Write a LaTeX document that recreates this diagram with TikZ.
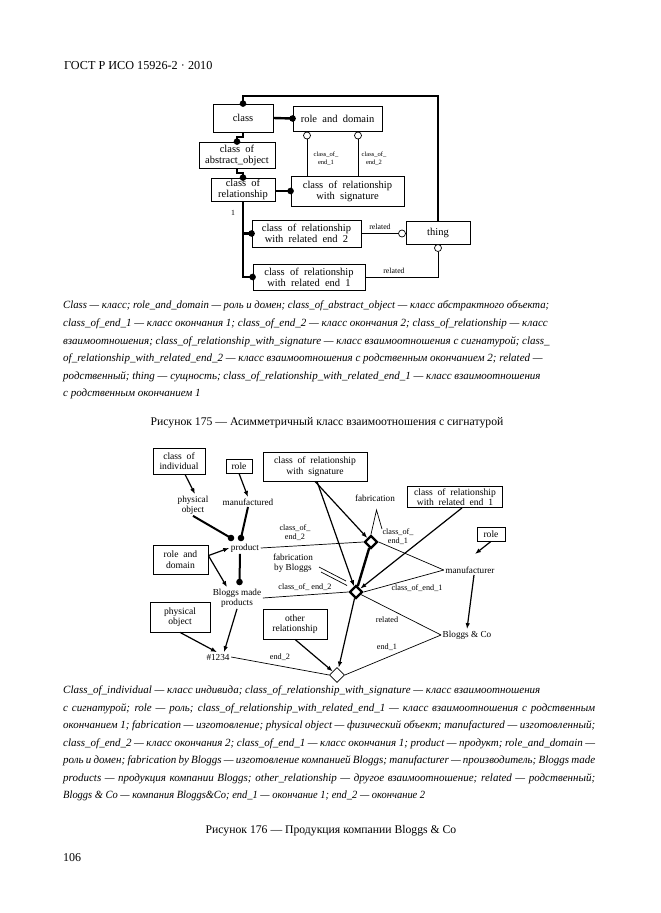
\documentclass[tikz,border=0pt]{standalone}
\usepackage{fontspec}
\usepackage{graphicx}
\setmainfont{Liberation Serif}
\usetikzlibrary{shapes.geometric,arrows.meta}
\begin{document}
\begin{tikzpicture}[x=1pt,y=-1pt,
  cbox/.style={draw, line width=0.8pt, inner sep=0pt, align=center, font=\fontsize{9.6}{10.5}\selectfont},
  tbox/.style={cbox, font=\fontsize{10.5}{11}\selectfont},
  lbl/.style={inner sep=1.5pt, align=center, font=\fontsize{9.2}{10}\selectfont},
  slbl/.style={inner sep=0.5pt, align=center, font=\fontsize{6.5}{8}\selectfont},
  mlbl/.style={inner sep=0.5pt, align=center, font=\fontsize{7.8}{8.8}\selectfont},
  blbl/.style={inner sep=0.5pt, align=center, font=\fontsize{8.2}{9.2}\selectfont},
  thk/.style={line width=2.4pt},
  thkb/.style={line width=2pt},
  thn/.style={line width=0.7pt},
  arr/.style={line width=1.2pt, -{Latex[length=6pt,width=4.5pt]}},
  hol/.style={circle, draw, fill=white, line width=0.7pt, inner sep=0pt, minimum size=7pt},
  leg/.style={anchor=base west, inner sep=0pt, font=\fontsize{11}{12}\selectfont\itshape},
  capt/.style={anchor=base, inner sep=0pt, font=\fontsize{11.7}{13}\selectfont},
]
\useasboundingbox (0,0) rectangle (661,913);
\fill[white] (0,0) rectangle (661,913);

% header and page number
\node[anchor=base west, inner sep=0pt, font=\fontsize{12.2}{14}\selectfont] (hdr) at (64,69) {ГОСТ Р ИСО 15926-2 · 2010};
\node[anchor=base west, inner sep=0pt, font=\fontsize{12}{14}\selectfont] (pg) at (63,861) {106};

% ---------------- Figure 175 ----------------
\node[tbox, minimum width=60, minimum height=28] (class) at (243,118) {class};
\node[tbox, minimum width=89, minimum height=25] (rad) at (337.5,118.5) {role\ \ and\ \ domain};
\node[tbox, minimum width=76, minimum height=26] (abs) at (237,155) {class\ \ of\\abstract\_object};
\node[tbox, minimum width=64, minimum height=23] (rel) at (243,189.5) {class\ \ of\\relationship};
\node[tbox, minimum width=113, minimum height=30] (sig) at (347.5,191) {class\ \ of\ \ relationship\\with\ \ signature};
\node[tbox, minimum width=109, minimum height=27] (re2) at (306.5,233.5) {class\ \ of\ \ relationship\\with\ \ related\ \ end\ \ 2};
\node[tbox, minimum width=64, minimum height=23] (thing) at (438,232.5) {thing};
\node[tbox, minimum width=112, minimum height=26] (re1) at (309,277) {class\ \ of\ \ relationship\\with\ \ related\ \ end\ \ 1};

\coordinate (topy) at (0,96);
\draw[thk] (class.north) -- (class.north |- topy) -| (thing.north);
\fill (class.north) circle (3.3);
\draw[thk] (class.east) -- (rad.west);
\fill (rad.west) circle (3.3);
\coordinate (j1) at (237,137);
\draw[thk] (class.south) |- (j1) -- (abs.north);
\fill (abs.north) circle (3.3);
\coordinate (j2) at (243,173);
\draw[thk] (abs.south) |- (j2) -- (rel.north);
\fill (rel.north) circle (3.3);
\draw[thk] (rel.east |- sig.west) -- (sig.west);
\fill (sig.west) circle (3.3);

\node[hol] (h1) at (307,135.5) {};
\node[hol] (h2) at (358,135.5) {};
\draw[thn] (h1.south) -- (h1.south |- sig.north);
\draw[thn] (h2.south) -- (h2.south |- sig.north);
\node[slbl] (l1) at (326,159) {class\_of\_\\end\_1};
\node[slbl] (l2) at (374,159) {class\_of\_\\end\_2};

\draw[thk] (rel.south) |- (re1.west);
\draw[thk] (rel.south |- re2.west) -- (re2.west);
\fill (re2.west) circle (3.3);
\fill (re1.west) circle (3.3);
\node[mlbl] (one) at (233,213) {1};

\node[hol] (h3) at (402,233.5) {};
\draw[thn] (re2.east) -- (h3.west);
\node[mlbl] (l3) at (380,227) {related};
\node[hol] (h4) at (438,248) {};
\draw[thn] (re1.east) -| (h4.south);
\node[mlbl] (l4) at (394,271) {related};

% legend 1
\node[leg] (a1) at (63,308) {\resizebox{486pt}{\height}{Class — класс; role\_and\_domain — роль и домен; class\_of\_abstract\_object — класс абстрактного объекта;}};
\node[leg] (a2) at (63,326) {class\_of\_end\_1 — класс окончания 1; class\_of\_end\_2 — класс окончания 2; class\_of\_relationship — класс};
\node[leg] (a3) at (63,344) {взаимоотношения; class\_of\_relationship\_with\_signature — класс взаимоотношения с сигнатурой; class\_};
\node[leg] (a4) at (63,361) {of\_relationship\_with\_related\_end\_2 — класс взаимоотношения с родственным окончанием 2; related —};
\node[leg] (a5) at (63,379) {родственный; thing — сущность; class\_of\_relationship\_with\_related\_end\_1 — класс взаимоотношения};
\node[leg] (a6) at (63,396) {с родственным окончанием 1};

\node[capt] (c175) at (327,425) {Рисунок 175 — Асимметричный класс взаимоотношения с сигнатурой};

% ---------------- Figure 176 ----------------
\node[cbox, minimum width=52, minimum height=26] (coi) at (179,461) {class\ \ of\\individual};
\node[cbox, minimum width=26, minimum height=14] (role1) at (239,466) {role};
\node[cbox, minimum width=104, minimum height=29] (sig2) at (315,466.5) {class\ \ of\ \ relationship\\with\ \ signature};
\node[cbox, minimum width=95, minimum height=21] (cre1) at (455,497) {class\ \ of\ \ relationship\\with\ \ related\ \ end\ \ 1};
\node[cbox, minimum width=28, minimum height=14] (role2) at (491,534) {role};
\node[cbox, minimum width=55, minimum height=29] (rad2) at (180.5,559.5) {role\ \ and\\domain};
\node[cbox, minimum width=60, minimum height=30] (po) at (180,617) {physical\\object};
\node[cbox, minimum width=64, minimum height=30] (other) at (295,624) {other\\relationship};

\node[lbl] (phys) at (193,505) {physical\\object};
\node[lbl] (manuf) at (248,502) {manufactured};
\node[lbl] (prod) at (245,548) {product};
\node[lbl] (bmp) at (237,598) {Bloggs made\\products};
\node[lbl] (n1234) at (218,657) {\#1234};
\node[lbl] (fab) at (375,498) {fabrication};
\node[lbl] (fbb) at (293,563) {fabrication\\by Bloggs};
\node[lbl] (mfr) at (470,570) {manufacturer};
\node[lbl] (bco) at (467,635) {Bloggs \& Co};

\node[blbl] (k1) at (295,533) {class\_of\_\\end\_2};
\node[blbl] (k2) at (398,537) {class\_of\_\\end\_1};
\node[blbl] (k3) at (305,587) {class\_of\_ end\_2};
\node[blbl] (k4) at (417,588) {class\_of\_end\_1};
\node[blbl] (k5) at (387,620) {related};
\node[blbl] (k6) at (387,647) {end\_1};
\node[blbl] (k7) at (280,657) {end\_2};

\node[diamond, draw, line width=2.4pt, fill=white, inner sep=0pt, minimum size=13pt] (D1) at (371,542) {};
\node[diamond, draw, line width=2.4pt, fill=white, inner sep=0pt, minimum size=13pt] (D2) at (356,592) {};
\node[diamond, draw, line width=0.7pt, fill=white, inner sep=0pt, minimum size=15pt] (D3) at (337,675) {};

\coordinate (d1) at (231,538);
\coordinate (d2) at (241,538);
\coordinate (d3) at (239.5,582);
\draw[arr] ([xshift=6pt]coi.south) -- ([xshift=2pt]phys.north);
\draw[arr] (role1.south) -- (manuf.north);
\draw[thkb] (phys.south) -- (d1);
\draw[thkb] (manuf.south) -- (d2);
\fill (d1) circle (3.3);
\fill (d2) circle (3.3);
\draw[arr] (rad2.8) -- (prod.west);
\draw[arr] (rad2.8) -- ([xshift=-10pt]bmp.north);
\draw[thkb] ([xshift=-5pt]prod.south) -- (d3);
\fill (d3) circle (3.3);
\draw[thn] (prod.east) -- (D1.west);
\draw[thn] (bmp.east) -- (D2.west);
\draw[arr] (bmp.south) -- ([xshift=6pt]n1234.north);
\draw[arr] (po.south) -- ([xshift=-1pt]n1234.north);
\draw[thn] (n1234.east) -- (D3.west);
\draw[arr] (other.south) -- (D3);

\draw[arr] (sig2.south) -- (D1);
\draw[arr] ([xshift=2pt]sig2.south) -- (D2);
\draw[thk] (D1) -- (D2);
\coordinate (z1) at (376.5,510);
\coordinate (z2) at (382,529);
\draw[thn] (D1.north) -- (z1) -- (z2);
\coordinate (f1) at (319,567);
\coordinate (f2) at (321,572);
\coordinate (f3) at (346,581);
\coordinate (f4) at (347,585.5);
\draw[thn] (f1) -- (f3);
\draw[thn] (f2) -- (f4);

\draw[thn] (D1.east) -- (mfr.west);
\draw[thn] (D2.east) -- (mfr.west);
\draw[thn] (D2) -- (bco.west);
\draw[thn] (D3.east) -- (bco.west);
\draw[arr, shorten >=1pt] (D2) -- (D3);
\coordinate (mt) at (475,554);
\draw[arr] (role2.south) -- (mt);
\draw[arr] ([xshift=4pt]mfr.south) -- (bco.north);
\draw[arr] ([xshift=7pt]cre1.south) -- (D2);

% legend 2
\node[leg] (b1) at (63,693) {Class\_of\_individual — класс индивида; class\_of\_relationship\_with\_signature — класс взаимоотношения};
\node[leg] (b2) at (63,711) {\makebox[532pt][s]{с сигнатурой; role — роль; class\_of\_relationship\_with\_related\_end\_1 — класс взаимоотношения с родственным}};
\node[leg] (b3) at (63,728) {\makebox[532pt][s]{окончанием 1; fabrication — изготовление; physical object — физический объект; manufactured — изготовленный;}};
\node[leg] (b4) at (63,746) {\makebox[532pt][s]{class\_of\_end\_2 — класс окончания 2; class\_of\_end\_1 — класс окончания 1; product — продукт; role\_and\_domain —}};
\node[leg] (b5) at (63,763) {\makebox[532pt][s]{роль и домен; fabrication by Bloggs — изготовление компанией Bloggs; manufacturer — производитель; Bloggs made}};
\node[leg] (b6) at (63,781) {\makebox[532pt][s]{products — продукция компании Bloggs; other\_relationship — другое взаимоотношение; related — родственный;}};
\node[leg] (b7) at (63,798) {\resizebox{362pt}{\height}{Bloggs \& Co — компания Bloggs\&Co; end\_1 — окончание 1; end\_2 — окончание 2}};

\node[capt] (c176) at (331,833) {Рисунок 176 — Продукция компании Bloggs \& Co};
\end{tikzpicture}
\end{document}
